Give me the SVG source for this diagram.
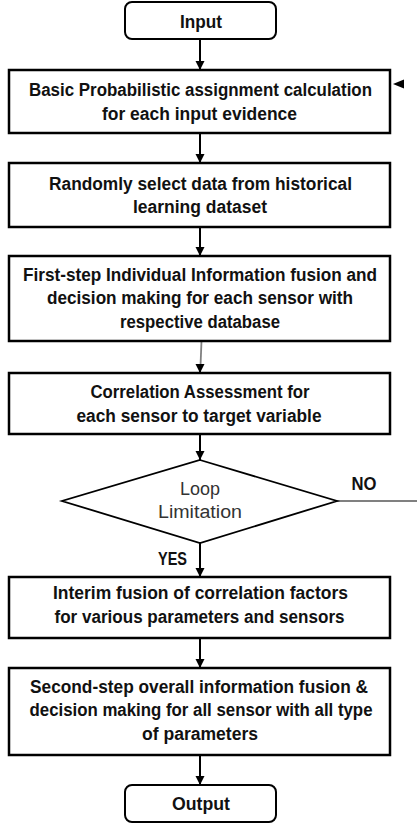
<svg xmlns="http://www.w3.org/2000/svg" width="417" height="826" viewBox="0 0 417 826">
<style>
.box{fill:#fff;stroke:#000;stroke-width:2.5}
.term{fill:#fff;stroke:#000;stroke-width:2}
.dia{fill:#fff;stroke:#000;stroke-width:1.8}
.t{font-family:"Liberation Sans",Arial,sans-serif;font-weight:bold;font-size:18px;fill:#111;text-anchor:middle}
.d{font-family:"Liberation Sans",Arial,sans-serif;font-size:18px;fill:#333;text-anchor:middle}
.c{stroke:#000;stroke-width:2;fill:none}
.g{stroke:#808080;stroke-width:1.8;fill:none}
</style>
<defs>
<marker id="ah" markerWidth="10" markerHeight="10" refX="9" refY="5" orient="auto" markerUnits="userSpaceOnUse">
<path d="M0,0.5 L9,5 L0,9.5 Z" fill="#000"/>
</marker>
</defs>
<g id="connectors">
<line class="c" x1="200" y1="39" x2="200" y2="70" marker-end="url(#ah)"/>
<line class="c" x1="200" y1="133" x2="200" y2="163" marker-end="url(#ah)"/>
<line class="c" x1="200" y1="227" x2="200" y2="256" marker-end="url(#ah)"/>
<path class="g" d="M201.5,341 L200.5,366"/>
<line class="c" x1="200" y1="364" x2="200" y2="373" marker-end="url(#ah)"/>
<line class="c" x1="200" y1="434" x2="200" y2="460" marker-end="url(#ah)"/>
<line class="c" x1="200" y1="543" x2="200" y2="577" marker-end="url(#ah)"/>
<line class="c" x1="200" y1="638" x2="200" y2="668" marker-end="url(#ah)"/>
<line class="c" x1="200" y1="755" x2="200" y2="785" marker-end="url(#ah)"/>
<line class="g" x1="337" y1="501" x2="417" y2="501"/>
<path d="M393,84 L404,79.5 L404,88.5 Z" fill="#000"/>
<text class="t" x="172.5" y="565" textLength="29" lengthAdjust="spacingAndGlyphs">YES</text>
<text class="t" x="364" y="490" textLength="25" lengthAdjust="spacingAndGlyphs">NO</text>
</g>
<g id="input">
<rect class="term" x="125" y="2" width="151" height="37" rx="7"/>
<text class="t" x="201" y="28" textLength="42" lengthAdjust="spacingAndGlyphs">Input</text>
</g>
<g id="bpa">
<rect class="box" x="9" y="70" width="381" height="63"/>
<text class="t" x="200.5" y="96" textLength="343" lengthAdjust="spacingAndGlyphs">Basic Probabilistic assignment calculation</text>
<text class="t" x="199.5" y="120" textLength="195" lengthAdjust="spacingAndGlyphs">for each input evidence</text>
</g>
<g id="random">
<rect class="box" x="9" y="163" width="381" height="64"/>
<text class="t" x="200.5" y="190" textLength="303" lengthAdjust="spacingAndGlyphs">Randomly select data from historical</text>
<text class="t" x="200" y="213" textLength="134" lengthAdjust="spacingAndGlyphs">learning dataset</text>
</g>
<g id="firststep">
<rect class="box" x="9" y="256" width="381" height="85"/>
<text class="t" x="200" y="281" textLength="354" lengthAdjust="spacingAndGlyphs">First-step Individual Information fusion and</text>
<text class="t" x="200" y="304" textLength="306" lengthAdjust="spacingAndGlyphs">decision making for each sensor with</text>
<text class="t" x="200" y="328" textLength="160" lengthAdjust="spacingAndGlyphs">respective database</text>
</g>
<g id="correlation">
<rect class="box" x="9" y="373" width="381" height="61"/>
<text class="t" x="200" y="398" textLength="219" lengthAdjust="spacingAndGlyphs">Correlation Assessment  for</text>
<text class="t" x="199" y="422" textLength="245" lengthAdjust="spacingAndGlyphs">each sensor to target variable</text>
</g>
<g id="loop">
<polygon class="dia" points="200,460 337,501 200,543 62,501"/>
<text class="d" x="200" y="495" textLength="40" lengthAdjust="spacingAndGlyphs">Loop</text>
<text class="d" x="200" y="518" textLength="84" lengthAdjust="spacingAndGlyphs">Limitation</text>
</g>
<g id="interim">
<rect class="box" x="9" y="577" width="381" height="61"/>
<text class="t" x="200.5" y="599" textLength="295" lengthAdjust="spacingAndGlyphs">Interim fusion of correlation factors</text>
<text class="t" x="199.5" y="623" textLength="290" lengthAdjust="spacingAndGlyphs">for various parameters and sensors</text>
</g>
<g id="secondstep">
<rect class="box" x="9" y="668" width="381" height="87"/>
<text class="t" x="199" y="693" textLength="338" lengthAdjust="spacingAndGlyphs">Second-step overall information fusion &amp;</text>
<text class="t" x="201" y="716" textLength="343" lengthAdjust="spacingAndGlyphs">decision making for all sensor with all type</text>
<text class="t" x="200" y="740" textLength="116" lengthAdjust="spacingAndGlyphs">of parameters</text>
</g>
<g id="output">
<rect class="term" x="125" y="785" width="151" height="37" rx="7"/>
<text class="t" x="201" y="810" textLength="58" lengthAdjust="spacingAndGlyphs">Output</text>
</g>
</svg>
